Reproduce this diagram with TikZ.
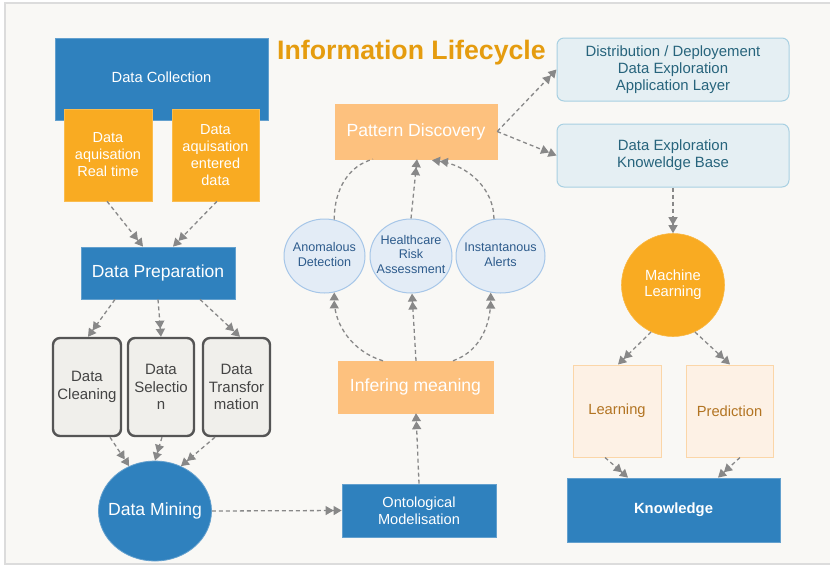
\documentclass[tikz,border=0pt]{standalone}
\usepackage{fontspec}
\setmainfont{Liberation Sans}
\usetikzlibrary{arrows.meta,shapes.geometric,calc}
\definecolor{bgc}{HTML}{F9F8F5}
\definecolor{framec}{HTML}{DCDCDC}
\definecolor{blueC}{HTML}{2F81BE}
\definecolor{orangeC}{HTML}{F9AB22}
\definecolor{lorangeC}{HTML}{FDC17E}
\definecolor{titleC}{HTML}{E59C0F}
\definecolor{ellfill}{HTML}{E3ECF6}
\definecolor{elldraw}{HTML}{A6C6E8}
\definecolor{elltext}{HTML}{2D5B8C}
\definecolor{distfill}{HTML}{E5EFF3}
\definecolor{distdraw}{HTML}{A8D0E2}
\definecolor{disttext}{HTML}{27647C}
\definecolor{greyfill}{HTML}{F0EFEB}
\definecolor{greydraw}{HTML}{555555}
\definecolor{greytext}{HTML}{444444}
\definecolor{learnfill}{HTML}{FDF1E5}
\definecolor{learndraw}{HTML}{FBD6A8}
\definecolor{learntext}{HTML}{B27422}
\definecolor{arrC}{HTML}{888888}
\newcommand{\zerow}[1]{\makebox[0pt][c]{\begin{tabular}{@{}c@{}}#1\end{tabular}}}
\begin{document}
\begin{tikzpicture}[x=1pt,y=-1pt,
  box/.style={rectangle,inner sep=0pt,align=center},
  bluebox/.style={box,fill=blueC,draw=blueC!75!white,line width=0.8pt,text=white},
  orangebox/.style={box,fill=orangeC,draw=orangeC!80!white,line width=0.6pt,text=white,font=\fontsize{14.5}{17}\selectfont},
  lobox/.style={box,fill=lorangeC,draw=lorangeC,text=white,font=\fontsize{17.6}{20}\selectfont},
  greybox/.style={box,fill=greyfill,draw=greydraw,line width=2.4pt,rounded corners=7pt,text=greytext,font=\fontsize{15}{17.5}\selectfont,minimum width=66pt,minimum height=98pt},
  ellnode/.style={ellipse,inner sep=0pt,fill=ellfill,draw=elldraw,line width=1pt,text=elltext,font=\fontsize{12.6}{14.8}\selectfont,minimum height=74pt},
  distbox/.style={box,fill=distfill,draw=distdraw,line width=1pt,rounded corners=7pt,text=disttext,font=\fontsize{14.9}{17}\selectfont,minimum width=232pt,minimum height=63pt},
  learnbox/.style={box,fill=learnfill,draw=learndraw,line width=1pt,text=learntext,font=\fontsize{14.7}{17}\selectfont,minimum height=92pt},
  arr/.style={draw=arrC,line width=1.3pt,dash pattern=on 4pt off 3pt,-{Triangle[length=8pt,width=9pt]Triangle[length=8pt,width=9pt]}},
  plainarr/.style={draw=arrC,line width=1.3pt,dash pattern=on 4pt off 3pt}]
\useasboundingbox (0,0) rectangle (830,566);
\fill[white] (0,0) rectangle (830,566);
\draw[fill=bgc,draw=framec,line width=1.2pt] (5,3) rectangle (833,564);

% title
\node[text=titleC,font=\bfseries\fontsize{26.7}{30}\selectfont] (title) at (411.5,52.5) {Information Lifecycle};

% left column
\node[bluebox,minimum width=213pt,minimum height=82pt,font=\fontsize{14.7}{17}\selectfont] (coll) at (161.5,79) {Data Collection\rule[-4pt]{0pt}{0pt}};
\node[orangebox,minimum width=88pt,minimum height=92pt] (acq1) at (108,155) {Data\\aquisation\\Real time};
\node[orangebox,minimum width=87pt,minimum height=92pt] (acq2) at (215.5,155) {Data\\aquisation\\entered\\data};
\node[bluebox,minimum width=154pt,minimum height=52pt,font=\fontsize{17.5}{20}\selectfont] (prep) at (158,273) {Data Preparation};
\node[greybox,minimum width=68pt] (clean) at (87,387) {Data\\Cleaning};
\node[greybox] (sel) at (161,387) {Data\\Selectio\\n};
\node[greybox,minimum width=67pt] (trans) at (236.5,387) {Data\\Transfor\\mation};
\node[ellipse,inner sep=0pt,fill=blueC,draw=blueC!75!white,line width=0.8pt,text=white,font=\fontsize{17.6}{20}\selectfont,minimum width=113pt,minimum height=100pt] (mine) at (155,511) {\zerow{Data Mining}};

% middle column
\node[bluebox,minimum width=154pt,minimum height=53pt,font=\fontsize{14.6}{17}\selectfont] (onto) at (419,510.5) {Ontological\\Modelisation};
\node[lobox,minimum width=155pt,minimum height=52pt] (infer) at (415.5,387) {Infering meaning};
\node[ellnode,minimum width=81pt] (anom) at (324.5,256) {\zerow{Anomalous\\Detection}\rule[-3pt]{0pt}{0pt}};
\node[ellnode,minimum width=82pt] (hrisk) at (411,256) {\zerow{Healthcare\\Risk\\Assessment}\rule[-3pt]{0pt}{0pt}};
\node[ellnode,minimum width=89pt] (alert) at (500.5,256) {\zerow{Instantanous\\Alerts}\rule[-3pt]{0pt}{0pt}};
\node[lobox,minimum width=162pt,minimum height=55pt] (pat) at (416,131.5) {Pattern Discovery};

% right column
\node[distbox] (dist) at (673,69.5) {Distribution / Deployement\\Data Exploration\\Application Layer};
\node[distbox] (kb) at (673,155.5) {Data Exploration\\Knoweldge Base};
\node[circle,inner sep=0pt,fill=orangeC,draw=orangeC!85!white,line width=0.6pt,text=white,font=\fontsize{14.7}{16.5}\selectfont,minimum size=103pt] (ml) at (673,285) {\zerow{Machine\\Learning}};
\node[learnbox,minimum width=88pt] (learn) at (617,411) {Learning};
\node[learnbox,minimum width=87pt] (pred) at (729.5,411) {Prediction};
\node[bluebox,minimum width=213pt,minimum height=64pt,font=\bfseries\fontsize{14.8}{17}\selectfont] (know) at (673.5,510) {Knowledge};

% connectors
\draw[arr] ($(acq1.south)+(-1,0)$) -- ($(prep.north)+(-15,0)$);
\draw[arr] ($(acq2.south)+(1.5,0)$) -- ($(prep.north)+(15,0)$);
\draw[arr] ($(prep.south)+(-43,0)$) -- ($(clean.north)+(1,0)$);
\draw[arr] (prep.south) -- (sel.north);
\draw[arr] ($(prep.south)+(42,0)$) -- ($(trans.north)+(3.5,0)$);
\draw[arr] ($(clean.south)+(23,0)$) -- (mine.120);
\draw[arr] ($(sel.south)+(1,0)$) -- (mine.north);
\draw[arr] ($(trans.south)+(-21.5,0)$) -- (mine.60);
\draw[arr] (mine.east) -- (onto.west);
\draw[arr] (onto.north) -- ($(infer.south)+(0.5,0)$);
\draw[arr] ($(infer.north)+(-32.5,0)$) .. controls ($(infer.north)+(-63,-9)$) and ($(anom.-75)+(0,32)$) .. (anom.-75);
\draw[arr] ($(infer.north)+(0.5,0)$) -- ($(hrisk.south)+(1,0)$);
\draw[arr] ($(infer.north)+(37.5,0)$) .. controls ($(infer.north)+(66,-10)$) and ($(alert.-105)+(0,30)$) .. (alert.-105);
\draw[plainarr] (anom.75) .. controls ($(anom.75)+(0,-32)$) and ($(pat.south)+(-66,6)$) .. ($(pat.south)+(-43,0)$);
\draw[arr] (hrisk.north) -- ($(pat.south)+(1,0)$);
\draw[arr] (alert.100) .. controls ($(alert.100)+(0,-30)$) and ($(pat.south)+(52,6)$) .. ($(pat.south)+(16,1)$);
\draw[arr] (pat.east) -- (dist.west);
\draw[arr] (pat.east) -- (kb.west);
\draw[arr] (kb.south) -- (ml.north);
\draw[arr] (ml.-115) -- ($(learn.north)+(1,0)$);
\draw[arr] (ml.-65) -- ($(pred.north)+(0.5,0)$);
\draw[arr] ($(learn.south)+(-12,0)$) -- ($(know.north)+(-45.5,0)$);
\draw[arr] ($(pred.south)+(10.5,0)$) -- ($(know.north)+(44.5,0)$);
\end{tikzpicture}
\end{document}
